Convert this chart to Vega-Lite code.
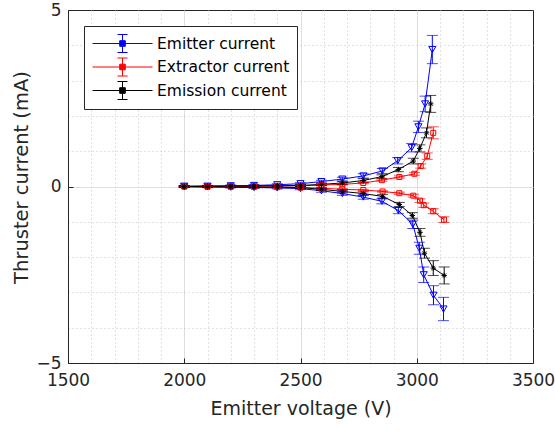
{
  "$schema": "https://vega.github.io/schema/vega-lite/v6.json",
  "width": 465,
  "height": 353,
  "autosize": "none",
  "padding": {"left": 68, "top": 10, "right": 22, "bottom": 68},
  "background": "white",
  "config": {
    "view": {"stroke": "#262626", "strokeWidth": 1},
    "font": "DejaVu Sans"
  },
  "data": {
    "values": [
      {"s": "Emitter current", "b": "pos", "V": 2000, "I": 0.01, "e": 0.02},
      {"s": "Emitter current", "b": "pos", "V": 2100, "I": 0.01, "e": 0.02},
      {"s": "Emitter current", "b": "pos", "V": 2200, "I": 0.02, "e": 0.02},
      {"s": "Emitter current", "b": "pos", "V": 2300, "I": 0.03, "e": 0.02},
      {"s": "Emitter current", "b": "pos", "V": 2400, "I": 0.05, "e": 0.03},
      {"s": "Emitter current", "b": "pos", "V": 2500, "I": 0.08, "e": 0.03},
      {"s": "Emitter current", "b": "pos", "V": 2590, "I": 0.14, "e": 0.04},
      {"s": "Emitter current", "b": "pos", "V": 2680, "I": 0.21, "e": 0.05},
      {"s": "Emitter current", "b": "pos", "V": 2770, "I": 0.3, "e": 0.06},
      {"s": "Emitter current", "b": "pos", "V": 2852, "I": 0.44, "e": 0.07},
      {"s": "Emitter current", "b": "pos", "V": 2918, "I": 0.73, "e": 0.09},
      {"s": "Emitter current", "b": "pos", "V": 2978, "I": 1.1, "e": 0.12},
      {"s": "Emitter current", "b": "pos", "V": 3007, "I": 1.69, "e": 0.16},
      {"s": "Emitter current", "b": "pos", "V": 3036, "I": 2.34, "e": 0.22},
      {"s": "Emitter current", "b": "pos", "V": 3067, "I": 3.88, "e": 0.4},
      {"s": "Emitter current", "b": "neg", "V": 2000, "I": -0.01, "e": 0.02},
      {"s": "Emitter current", "b": "neg", "V": 2100, "I": -0.01, "e": 0.02},
      {"s": "Emitter current", "b": "neg", "V": 2200, "I": -0.02, "e": 0.02},
      {"s": "Emitter current", "b": "neg", "V": 2300, "I": -0.03, "e": 0.02},
      {"s": "Emitter current", "b": "neg", "V": 2400, "I": -0.04, "e": 0.03},
      {"s": "Emitter current", "b": "neg", "V": 2500, "I": -0.06, "e": 0.03},
      {"s": "Emitter current", "b": "neg", "V": 2590, "I": -0.12, "e": 0.04},
      {"s": "Emitter current", "b": "neg", "V": 2680, "I": -0.2, "e": 0.05},
      {"s": "Emitter current", "b": "neg", "V": 2770, "I": -0.3, "e": 0.06},
      {"s": "Emitter current", "b": "neg", "V": 2850, "I": -0.42, "e": 0.07},
      {"s": "Emitter current", "b": "neg", "V": 2921, "I": -0.68, "e": 0.09},
      {"s": "Emitter current", "b": "neg", "V": 2983, "I": -1.07, "e": 0.12},
      {"s": "Emitter current", "b": "neg", "V": 3011, "I": -1.75, "e": 0.17},
      {"s": "Emitter current", "b": "neg", "V": 3030, "I": -2.5, "e": 0.22},
      {"s": "Emitter current", "b": "neg", "V": 3072, "I": -3.08, "e": 0.27},
      {"s": "Emitter current", "b": "neg", "V": 3115, "I": -3.47, "e": 0.33},
      {"s": "Extractor current", "b": "pos", "V": 2000, "I": 0.0, "e": 0.01},
      {"s": "Extractor current", "b": "pos", "V": 2100, "I": 0.01, "e": 0.01},
      {"s": "Extractor current", "b": "pos", "V": 2200, "I": 0.01, "e": 0.01},
      {"s": "Extractor current", "b": "pos", "V": 2300, "I": 0.01, "e": 0.01},
      {"s": "Extractor current", "b": "pos", "V": 2400, "I": 0.02, "e": 0.01},
      {"s": "Extractor current", "b": "pos", "V": 2500, "I": 0.02, "e": 0.01},
      {"s": "Extractor current", "b": "pos", "V": 2590, "I": 0.04, "e": 0.02},
      {"s": "Extractor current", "b": "pos", "V": 2680, "I": 0.06, "e": 0.02},
      {"s": "Extractor current", "b": "pos", "V": 2770, "I": 0.1, "e": 0.02},
      {"s": "Extractor current", "b": "pos", "V": 2850, "I": 0.18, "e": 0.03},
      {"s": "Extractor current", "b": "pos", "V": 2925, "I": 0.27, "e": 0.03},
      {"s": "Extractor current", "b": "pos", "V": 2990, "I": 0.36, "e": 0.04},
      {"s": "Extractor current", "b": "pos", "V": 3017, "I": 0.58, "e": 0.06},
      {"s": "Extractor current", "b": "pos", "V": 3045, "I": 0.86, "e": 0.09},
      {"s": "Extractor current", "b": "pos", "V": 3071, "I": 1.52, "e": 0.17},
      {"s": "Extractor current", "b": "neg", "V": 2000, "I": 0.0, "e": 0.01},
      {"s": "Extractor current", "b": "neg", "V": 2100, "I": -0.01, "e": 0.01},
      {"s": "Extractor current", "b": "neg", "V": 2200, "I": -0.01, "e": 0.01},
      {"s": "Extractor current", "b": "neg", "V": 2300, "I": -0.01, "e": 0.01},
      {"s": "Extractor current", "b": "neg", "V": 2400, "I": -0.02, "e": 0.01},
      {"s": "Extractor current", "b": "neg", "V": 2500, "I": -0.03, "e": 0.01},
      {"s": "Extractor current", "b": "neg", "V": 2590, "I": -0.05, "e": 0.02},
      {"s": "Extractor current", "b": "neg", "V": 2680, "I": -0.08, "e": 0.02},
      {"s": "Extractor current", "b": "neg", "V": 2770, "I": -0.1, "e": 0.02},
      {"s": "Extractor current", "b": "neg", "V": 2853, "I": -0.14, "e": 0.02},
      {"s": "Extractor current", "b": "neg", "V": 2925, "I": -0.19, "e": 0.03},
      {"s": "Extractor current", "b": "neg", "V": 2985, "I": -0.26, "e": 0.04},
      {"s": "Extractor current", "b": "neg", "V": 3014, "I": -0.4, "e": 0.05},
      {"s": "Extractor current", "b": "neg", "V": 3030, "I": -0.53, "e": 0.06},
      {"s": "Extractor current", "b": "neg", "V": 3071, "I": -0.7, "e": 0.07},
      {"s": "Extractor current", "b": "neg", "V": 3117, "I": -0.94, "e": 0.08},
      {"s": "Emission current", "b": "pos", "V": 2000, "I": 0.0, "e": 0.02},
      {"s": "Emission current", "b": "pos", "V": 2100, "I": 0.01, "e": 0.02},
      {"s": "Emission current", "b": "pos", "V": 2200, "I": 0.01, "e": 0.02},
      {"s": "Emission current", "b": "pos", "V": 2300, "I": 0.02, "e": 0.02},
      {"s": "Emission current", "b": "pos", "V": 2400, "I": 0.02, "e": 0.02},
      {"s": "Emission current", "b": "pos", "V": 2500, "I": 0.03, "e": 0.03},
      {"s": "Emission current", "b": "pos", "V": 2590, "I": 0.06, "e": 0.03},
      {"s": "Emission current", "b": "pos", "V": 2680, "I": 0.1, "e": 0.04},
      {"s": "Emission current", "b": "pos", "V": 2770, "I": 0.17, "e": 0.05},
      {"s": "Emission current", "b": "pos", "V": 2850, "I": 0.28, "e": 0.05},
      {"s": "Emission current", "b": "pos", "V": 2921, "I": 0.48, "e": 0.06},
      {"s": "Emission current", "b": "pos", "V": 2985, "I": 0.72, "e": 0.08},
      {"s": "Emission current", "b": "pos", "V": 3013, "I": 1.08, "e": 0.1},
      {"s": "Emission current", "b": "pos", "V": 3042, "I": 1.52, "e": 0.14},
      {"s": "Emission current", "b": "pos", "V": 3060, "I": 2.34, "e": 0.24},
      {"s": "Emission current", "b": "neg", "V": 2000, "I": 0.0, "e": 0.02},
      {"s": "Emission current", "b": "neg", "V": 2100, "I": -0.01, "e": 0.02},
      {"s": "Emission current", "b": "neg", "V": 2200, "I": -0.01, "e": 0.02},
      {"s": "Emission current", "b": "neg", "V": 2300, "I": -0.02, "e": 0.02},
      {"s": "Emission current", "b": "neg", "V": 2400, "I": -0.02, "e": 0.02},
      {"s": "Emission current", "b": "neg", "V": 2500, "I": -0.03, "e": 0.03},
      {"s": "Emission current", "b": "neg", "V": 2590, "I": -0.08, "e": 0.03},
      {"s": "Emission current", "b": "neg", "V": 2680, "I": -0.14, "e": 0.04},
      {"s": "Emission current", "b": "neg", "V": 2770, "I": -0.2, "e": 0.05},
      {"s": "Emission current", "b": "neg", "V": 2853, "I": -0.28, "e": 0.05},
      {"s": "Emission current", "b": "neg", "V": 2925, "I": -0.51, "e": 0.06},
      {"s": "Emission current", "b": "neg", "V": 2981, "I": -0.82, "e": 0.08},
      {"s": "Emission current", "b": "neg", "V": 3014, "I": -1.3, "e": 0.11},
      {"s": "Emission current", "b": "neg", "V": 3033, "I": -1.89, "e": 0.14},
      {"s": "Emission current", "b": "neg", "V": 3071, "I": -2.31, "e": 0.21},
      {"s": "Emission current", "b": "neg", "V": 3118, "I": -2.52, "e": 0.24}
    ]
  },
  "encoding": {
    "x": {
      "field": "V",
      "type": "quantitative",
      "scale": {"domain": [1500, 3500], "nice": false, "zero": false},
      "axis": {
        "title": "Emitter voltage (V)",
        "titleFontSize": 19,
        "titleFontWeight": "normal",
        "titleColor": "#262626",
        "titlePadding": 11,
        "values": [1500, 1600, 1700, 1800, 1900, 2000, 2100, 2200, 2300, 2400, 2500, 2600, 2700, 2800, 2900, 3000, 3100, 3200, 3300, 3400, 3500],
        "format": "d",
        "labelExpr": "datum.value % 500 === 0 ? datum.label : ''",
        "labelFontSize": 17,
        "labelColor": "#262626",
        "labelOverlap": false,
        "labelFlush": false,
        "labelPadding": 14,
        "domain": true,
        "domainColor": "#262626",
        "ticks": true,
        "tickSize": -5,
        "tickColor": {"condition": {"test": "datum.value % 500 === 0", "value": "#262626"}, "value": "transparent"},
        "grid": true,
        "gridColor": {"condition": {"test": "datum.value % 500 === 0", "value": "#dedede"}, "value": "#c4c4c4"},
        "gridDash": {"condition": {"test": "datum.value % 500 === 0", "value": []}, "value": [1, 3]},
        "gridOpacity": {"condition": {"test": "datum.value === 1500 || datum.value === 3500", "value": 0}, "value": 1}
      }
    },
    "y": {
      "field": "I",
      "type": "quantitative",
      "scale": {"domain": [-5, 5], "nice": false},
      "axis": {
        "title": "Thruster current (mA)",
        "titleFontSize": 19.5,
        "titleFontWeight": "normal",
        "titleColor": "#262626",
        "titlePadding": 4,
        "titleY": 167,
        "values": [-5, -4, -3, -2, -1, 0, 1, 2, 3, 4, 5],
        "labelExpr": "datum.value % 5 === 0 ? datum.label : ''",
        "labelFontSize": 17,
        "labelColor": "#262626",
        "labelOverlap": false,
        "labelFlush": false,
        "labelPadding": 12,
        "domain": true,
        "domainColor": "#262626",
        "ticks": true,
        "tickSize": -5,
        "tickColor": {"condition": {"test": "datum.value % 5 === 0", "value": "#262626"}, "value": "transparent"},
        "grid": true,
        "gridColor": {"condition": {"test": "datum.value === 0", "value": "#dedede"}, "value": "#c4c4c4"},
        "gridDash": {"condition": {"test": "datum.value === 0", "value": []}, "value": [1, 3]},
        "gridOpacity": {"condition": {"test": "datum.value === 5 || datum.value === -5", "value": 0}, "value": 1}
      }
    },
    "color": {
      "field": "s",
      "type": "nominal",
      "scale": {"domain": ["Emitter current", "Extractor current", "Emission current"], "range": ["#0000ff", "#ff0000", "#000000"]},
      "legend": {
        "title": null,
        "orient": "none",
        "legendX": 16,
        "legendY": 16,
        "fillColor": "white",
        "strokeColor": "#262626",
        "padding": 7,
        "labelFontSize": 15.5,
        "labelColor": "#000000",
        "labelOffset": 45,
        "rowPadding": 0.5,
        "symbolSize": 400,
        "symbolType": "M-0.9,0H5.1M2.1,-0.9V0.9M1.6,-0.9H2.6M1.6,0.9H2.6M1.82,-0.28H2.38V0.28H1.82Z",
        "symbolStrokeWidth": 1,
        "symbolOpacity": 1,
        "encode": {
          "symbols": {
            "update": {
              "fill": {"scale": "color", "field": "value"},
              "stroke": {"scale": "color", "field": "value"}
            }
          }
        }
      }
    }
  },
  "layer": [
    {
      "mark": {"type": "line", "strokeWidth": 1},
      "encoding": {"detail": {"field": "b"}}
    },
    {
      "mark": {"type": "errorbar", "ticks": {"size": 11}, "thickness": 1},
      "encoding": {
        "y": {"field": "I", "type": "quantitative"},
        "yError": {"field": "e"},
        "detail": {"field": "b"}
      }
    },
    {
      "transform": [{"filter": "datum.s === 'Emitter current'"}],
      "mark": {"type": "point", "shape": "triangle-down", "filled": false, "strokeWidth": 1, "opacity": 1, "size": 50}
    },
    {
      "transform": [{"filter": "datum.s === 'Extractor current'"}],
      "mark": {"type": "point", "shape": "square", "filled": false, "strokeWidth": 1, "opacity": 1, "size": 25}
    },
    {
      "transform": [{"filter": "datum.s === 'Emission current'"}],
      "mark": {"type": "point", "shape": "M-1,0H1M0,-1V1M-0.7,-0.7L0.7,0.7M-0.7,0.7L0.7,-0.7", "filled": false, "strokeWidth": 1, "opacity": 1, "size": 30}
    }
  ]
}
